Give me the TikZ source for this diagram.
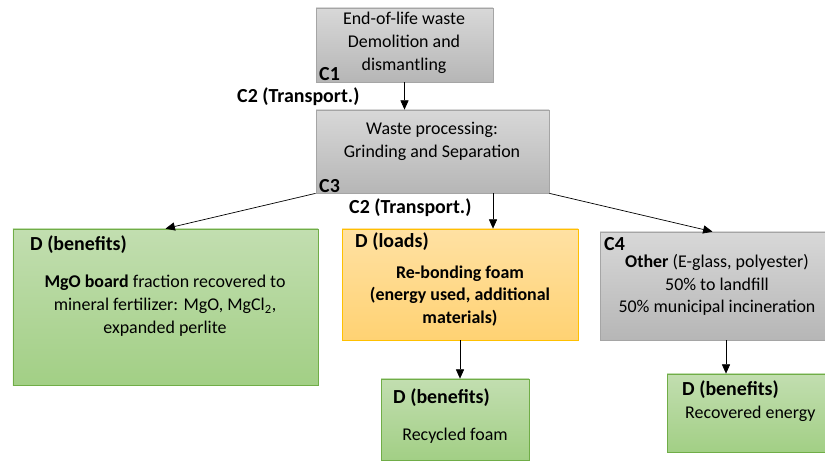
\documentclass[tikz,border=0pt]{standalone}
\usepackage{fontspec}
\setmainfont{Carlito}
\usetikzlibrary{arrows.meta,positioning}

\definecolor{greyT}{HTML}{D8D8D8}
\definecolor{greyB}{HTML}{B6B6B6}
\definecolor{greyL}{HTML}{A5A5A5}
\definecolor{greenT}{HTML}{C2DEB0}
\definecolor{greenB}{HTML}{A2CF85}
\definecolor{greenL}{HTML}{70AD47}
\definecolor{orangeT}{HTML}{FFE1A3}
\definecolor{orangeB}{HTML}{FFD273}
\definecolor{orangeL}{HTML}{FFC000}

\tikzset{
  box/.style={draw, inner sep=0pt, line width=0.6pt},
  greybox/.style={box, draw=greyL, top color=greyT, bottom color=greyB},
  greenbox/.style={box, draw=greenL, top color=greenT, bottom color=greenB},
  orangebox/.style={box, draw=orangeL, top color=orangeT, bottom color=orangeB},
  txt/.style={font=\fontsize{15.3}{19.5}\selectfont, align=center, inner sep=0pt},
  tag/.style={font=\fontsize{17}{20}\selectfont\bfseries, anchor=west, inner sep=0pt},
  arr/.style={-{Triangle[length=8pt,width=7pt]}, line width=0.6pt}
}

\begin{document}
\begin{tikzpicture}[x=0.03cm, y=-0.03cm]
  \useasboundingbox (0,0) rectangle (825,461);

  % top chain
  \node[greybox, minimum width=5.31cm, minimum height=2.22cm] (eol) at (404.5,45) {};
  \node[txt] (eoltxt) at (404,43) {End-of-life waste\\Demolition and\\dismantling};
  \node[tag] (c1) at (319,74) {C1};

  \node[greybox, minimum width=6.99cm, minimum height=2.49cm] (proc) at (432.5,151.5) {};
  \node[txt] (proctxt) at (432,141) {Waste processing:\\Grinding and Separation};
  \node[tag] (c3) at (319,186) {C3};

  \node[tag] (tr1) at (237,97) {C2 (Transport.)};
  \node[tag] (tr2) at (349,208) {C2 (Transport.)};

  % second row
  \node[greenbox, minimum width=9.15cm, minimum height=4.68cm] (dleft) at (165.5,307) {};
  \node[tag] (dlefttag) at (30,245) {D (benefits)};
  \node[txt] (dlefttxt) at (165,306) {\textbf{MgO board} fraction recovered to\\mineral fertilizer: MgO, MgCl\textsubscript{2},\\expanded perlite};

  \node[orangebox, minimum width=7.08cm, minimum height=3.33cm] (dloads) at (460,284.5) {};
  \node[tag] (dloadstag) at (355,242) {D (loads)};
  \node[txt, font=\fontsize{15.3}{19.5}\selectfont\bfseries] (dloadstxt) at (460,296) {Re-bonding foam\\(energy used, additional\\materials)};

  \node[greybox, minimum width=6.75cm, minimum height=3.24cm] (other) at (712.5,286) {};
  \node[tag] (c4) at (604,244) {C4};
  \node[txt] (othertxt) at (717,285) {\textbf{Other} (E-glass, polyester)\\50\% to landfill\\50\% municipal incineration};

  % third row
  \node[greenbox, minimum width=4.44cm, minimum height=2.43cm] (drec) at (455,419.5) {};
  \node[tag] (drectag) at (393,398) {D (benefits)};
  \node[txt] (drectxt) at (455,436) {Recycled foam};

  \node[greenbox, minimum width=4.74cm, minimum height=2.34cm] (dener) at (746,413) {};
  \node[tag] (denertag) at (682,390) {D (benefits)};
  \node[tag, font=\fontsize{15.3}{19.5}\selectfont] (denertxt) at (685,414) {Recovered energy};

  % connectors
  \coordinate (mid) at (493,0);
  \coordinate (rgt) at (726,0);
  \draw[arr] (eol.south) -- (eol.south |- proc.north);
  \draw[arr] (proc.south west) -- (dleft.north);
  \draw[arr] (proc.south -| mid) -- (dloads.north -| mid);
  \draw[arr] (proc.south east) -- (other.north);
  \draw[arr] (dloads.south) -- (dloads.south |- drec.north);
  \draw[arr] (other.south -| rgt) -- (dener.north -| rgt);
\end{tikzpicture}
\end{document}
